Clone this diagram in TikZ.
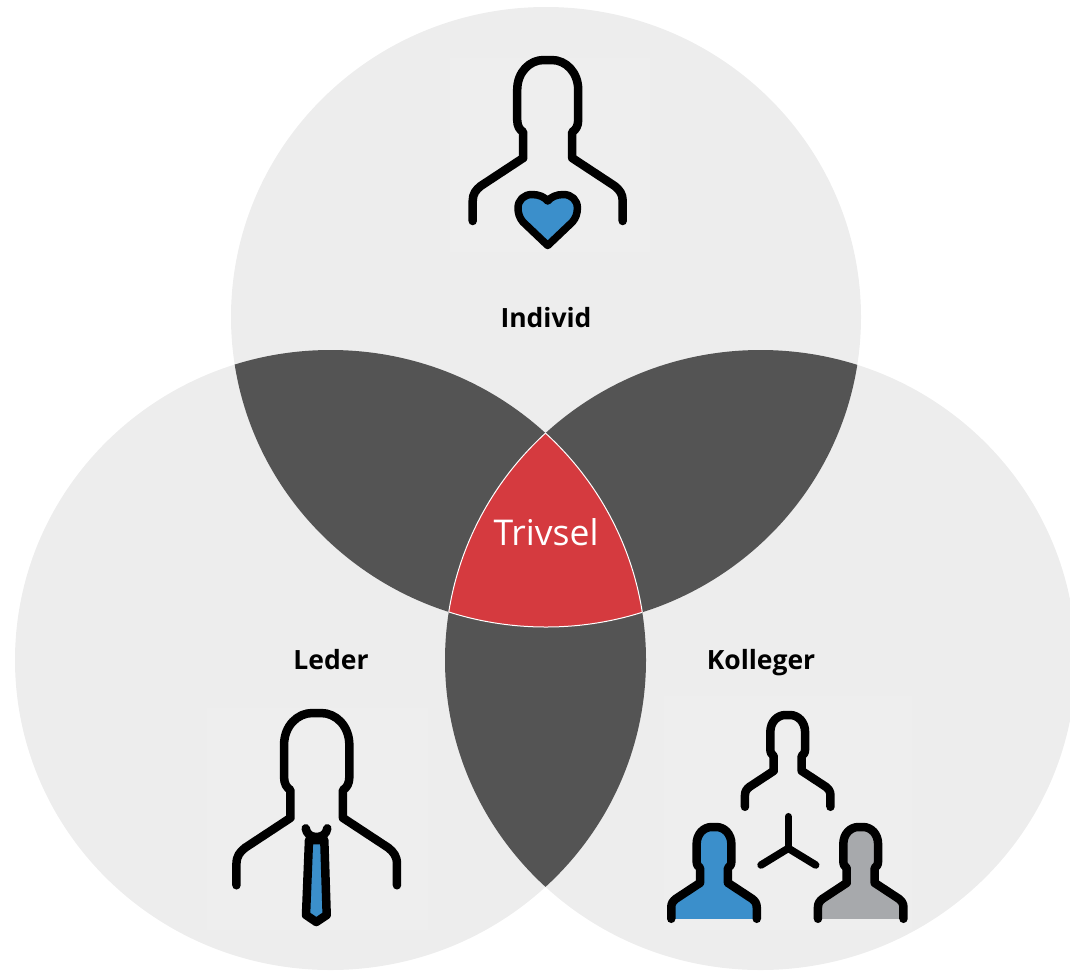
\documentclass[tikz,border=0pt]{standalone}
\usepackage{fontspec}
\setmainfont{Open Sans}
\definecolor{circlegray}{HTML}{EDEDED}
\definecolor{icongray}{HTML}{EEEEEE}
\definecolor{lensgray}{HTML}{545454}
\definecolor{trivselred}{HTML}{D53A3F}
\definecolor{iconblue}{HTML}{3B8FCB}
\definecolor{personsilver}{HTML}{A7A9AC}
\def\topcircle{(546,317) ellipse (315pt and 310pt)}
\def\leftcircle{(330.5,660) ellipse (315.5pt and 310pt)}
\def\rightcircle{(760.5,660) ellipse (315.5pt and 310pt)}
\begin{document}
\begin{tikzpicture}[x=1pt,y=-1pt]
        \tikzset{label/.style = {font=\fontsize{26.5}{30}\selectfont\bfseries,text=black,anchor=base}}
        \tikzset{icon/.style = {draw=black,line width=8.5pt,line cap=round,line join=round}}
        \tikzset{person/.pic = {
          \path[icon,pic actions] (-75,161) -- (-75,141) .. controls (-75,134) and (-72,130) .. (-67,126)
            -- (-24.5,98) -- (-24.5,72) .. controls (-28,70) and (-30.5,66) .. (-30.5,60) -- (-30.5,30)
            .. controls (-30.5,12) and (-18,0) .. (-4,0) -- (4,0) .. controls (18,0) and (30.5,12) .. (30.5,30)
            -- (30.5,60) .. controls (30.5,66) and (28,70) .. (24.5,72) -- (24.5,98)
            -- (67,126) .. controls (72,130) and (75,134) .. (75,141) -- (75,161);
        }}
        \useasboundingbox (0,0) rectangle (1070,970);
        % circles
        \fill[circlegray] \topcircle;
        \fill[circlegray] \leftcircle;
        \fill[circlegray] \rightcircle;
        % overlaps
        \begin{scope}
          \clip \topcircle;
          \fill[lensgray] \leftcircle;
          \fill[lensgray] \rightcircle;
        \end{scope}
        \begin{scope}
          \clip \leftcircle;
          \fill[lensgray] \rightcircle;
        \end{scope}
        \begin{scope}
          \clip \topcircle;
          \clip \leftcircle;
          \fill[trivselred] \rightcircle;
          \draw[white,line width=1pt] \rightcircle;
        \end{scope}
        \begin{scope}
          \clip \leftcircle;
          \clip \rightcircle;
          \draw[white,line width=1pt] \topcircle;
        \end{scope}
        \begin{scope}
          \clip \topcircle;
          \clip \rightcircle;
          \draw[white,line width=1pt] \leftcircle;
        \end{scope}
        % image patches behind the icons
        \fill[icongray] (450,58) rectangle (650,252);
        \fill[icongray] (207,708) rectangle (428,930);
        \fill[icongray] (664,696) rectangle (912,930);
        % labels
        \node[label] (individ) at (546,327) {Individ};
        \node[label] (leder) at (331,669) {Leder};
        \node[label] (kolleger) at (761,669) {Kolleger};
        \node[text=white,anchor=base,font=\fontsize{35.5}{40}\selectfont] (trivsel) at (546,545) {Trivsel};
        % individ icon
        \pic at (547.7,60) {person};
        \draw[icon,line width=7.5pt,fill=iconblue] (547.7,245.5) -- (523,222) .. controls (519.5,218) and (518,213) .. (518,208)
          .. controls (518,200) and (524,194.5) .. (532,194.5) .. controls (539,194.5) and (544.5,197) .. (547.7,201)
          .. controls (550.9,197) and (556.4,194.5) .. (563.4,194.5) .. controls (571.4,194.5) and (577.4,200) .. (577.4,208)
          .. controls (577.4,213) and (575.9,218) .. (572.4,222) -- cycle;
        % leder icon
        \pic[scale=1.07] at (316.7,713) {person};
        \draw[icon,fill=iconblue] (309,840) -- (324.3,840) -- (326.7,915) -- (316.3,922) -- (306,915) -- cycle;
        \draw[icon] (305.7,828.3) .. controls (306.5,834) and (311,837) .. (316.5,837)
          .. controls (322,837) and (326.5,834) .. (327.3,828.3);
        % kolleger icon
        \pic[scale=.57] at (787.7,715) {person};
        \pic[scale=.57,fill=iconblue] at (714,827) {person};
        \pic[scale=.57,fill=personsilver] at (860.7,827) {person};
        \coordinate (hub) at (788.3,848.3);
        \coordinate (hubtop) at (788.3,816.7);
        \coordinate (hubleft) at (761,865);
        \coordinate (hubright) at (815.7,865);
        \draw[icon,line width=7.5pt] (hub) -- (hubtop);
        \draw[icon,line width=7.5pt] (hub) -- (hubleft);
        \draw[icon,line width=7.5pt] (hub) -- (hubright);
      \end{tikzpicture}
\end{document}
